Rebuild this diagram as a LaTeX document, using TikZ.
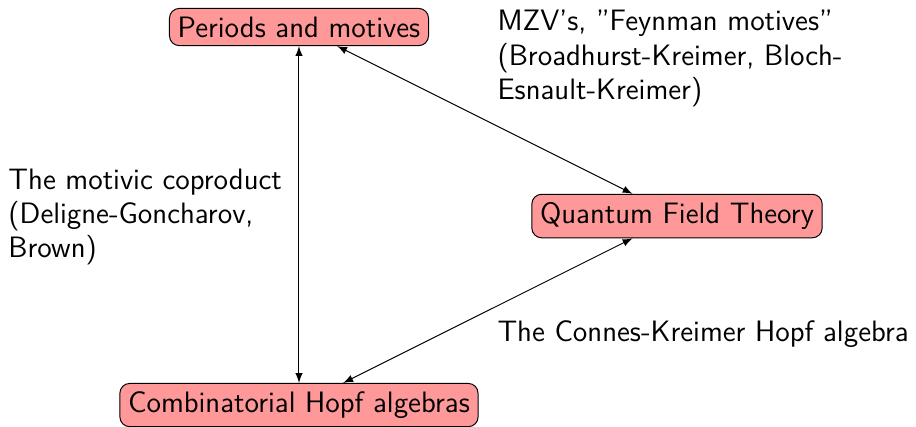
\documentclass[tikz,border=0pt]{standalone}
\usepackage{tikz}
\usetikzlibrary{arrows.meta}

\begin{document}
\begin{tikzpicture}[>=latex, font=\sffamily\large,
  topic/.style={draw, fill=red!40, rounded corners}]
\useasboundingbox (-4.271,-0.3) rectangle (8.814,5.786);
\node[topic] (periods) at (0,5.4) {Periods and motives};
\node[topic] (qft) at (5.4,2.7) {Quantum Field Theory};
\node[topic] (hopf) at (0,0) {Combinatorial Hopf algebras};
\draw[<->] (periods) -- (hopf);
\draw[<->] (periods) -- (qft);
\draw[<->] (qft) -- (hopf);
\node[anchor=north west, align=left, inner sep=0] (mzv) at (2.829,5.643)
  {MZV's, ''Feynman motives''\\(Broadhurst-Kreimer, Bloch-\\Esnault-Kreimer)};
\node[anchor=north west, align=left, inner sep=0] (coprod) at (-4.157,3.386)
  {The motivic coproduct\\(Deligne-Goncharov,\\Brown)};
\node[anchor=north west, align=left, inner sep=0] (connes) at (2.829,1.214)
  {The Connes-Kreimer Hopf algebra};
\end{tikzpicture}
\end{document}
